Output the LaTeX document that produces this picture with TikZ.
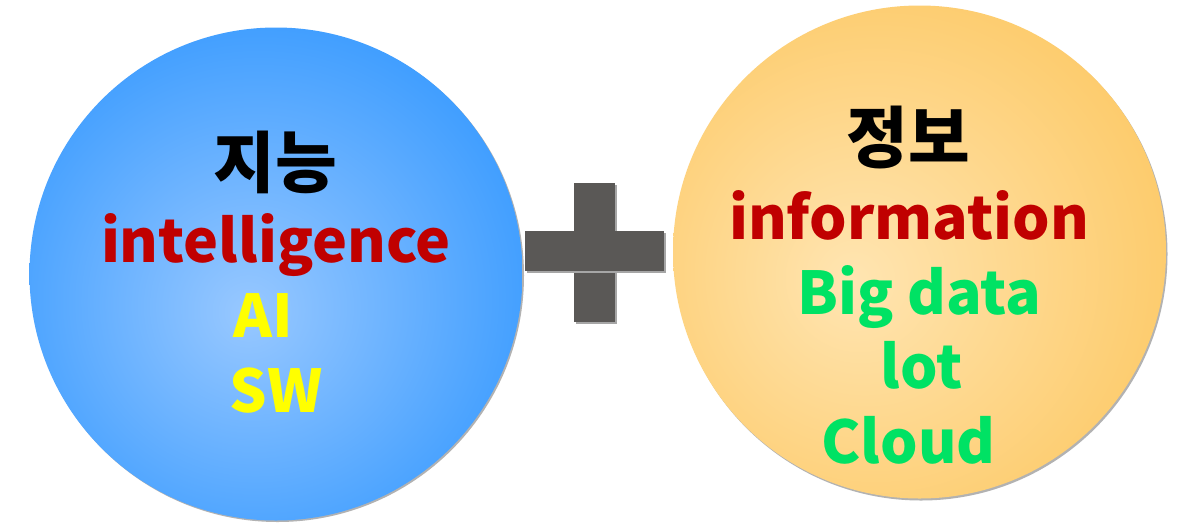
\documentclass[tikz,border=0pt]{standalone}
\usepackage{fontspec}
\setmainfont{Noto Sans CJK KR}
\newfontfamily\krfont{Noto Sans CJK KR}
\definecolor{bluein}{RGB}{152,200,255}
\definecolor{blueout}{RGB}{64,158,255}
\definecolor{orangein}{RGB}{255,229,178}
\definecolor{orangeout}{RGB}{253,203,107}
\definecolor{txtred}{RGB}{192,0,0}
\definecolor{txtyellow}{RGB}{255,255,0}
\definecolor{txtgreen}{RGB}{0,226,100}
\definecolor{plusgray}{RGB}{90,88,86}
\pgfdeclareradialshading{blueball}{\pgfpoint{-3bp}{-4bp}}{color(0bp)=(bluein); color(28bp)=(blueout); color(60bp)=(blueout)}
\pgfdeclareradialshading{orangeball}{\pgfpoint{-7bp}{-3bp}}{color(0bp)=(orangein); color(30bp)=(orangeout); color(60bp)=(orangeout)}
\tikzset{
  ball/.style={circle, minimum size=493pt, inner sep=0pt, draw=none},
  ballshadow/.style={circle, minimum size=493pt, inner sep=0pt, fill=black!30},
  label/.style={anchor=base, font=\bfseries\fontsize{59}{59}\selectfont, inner sep=0pt},
  krlabel/.style={anchor=base, font=\krfont\bfseries\fontsize{67}{67}\selectfont, inner sep=0pt},
  plusbar/.style={fill=plusgray, draw=none},
  plusshadow/.style={fill=black!35, draw=none}
}
\begin{document}
\begin{tikzpicture}[x=1pt,y=-1pt]
\useasboundingbox (0,0) rectangle (1179,523);
\fill[white] (0,0) rectangle (1179,523);
% shadows of circles
\node[ballshadow] (intelshadow) at (277.5,275.5) {};
\node[ballshadow] (infoshadow) at (921,254) {};
% circles
\node[ball, shading=blueball] (intel) at (276,274) {};
\node[ball, shading=orangeball] (info) at (919.5,252) {};
% plus sign
\fill[plusshadow] (576,185) rectangle (617,324);
\fill[plusbar] (574,183) rectangle (615,322);
\fill[plusshadow] (527,233) rectangle (666,273);
\fill[plusbar] (525,231) rectangle (664,271);
% left texts
\node[krlabel] (t1) at (275,187) {지능};
\node[label, text=txtred] (t2) at (276,262) {intelligence};
\node[label, text=txtyellow] (t3) at (263,337) {AI};
\node[label, text=txtyellow] (t4) at (276,412) {SW};
% right texts
\node[krlabel] (r1) at (908,162) {정보};
\node[label, text=txtred] (r2) at (909,239) {information};
\node[label, text=txtgreen] (r3) at (919.5,314) {Big data};
\node[label, text=txtgreen] (r4) at (921.5,388) {lot};
\node[label, text=txtgreen] (r5) at (908.5,463) {Cloud};
\end{tikzpicture}
\end{document}
